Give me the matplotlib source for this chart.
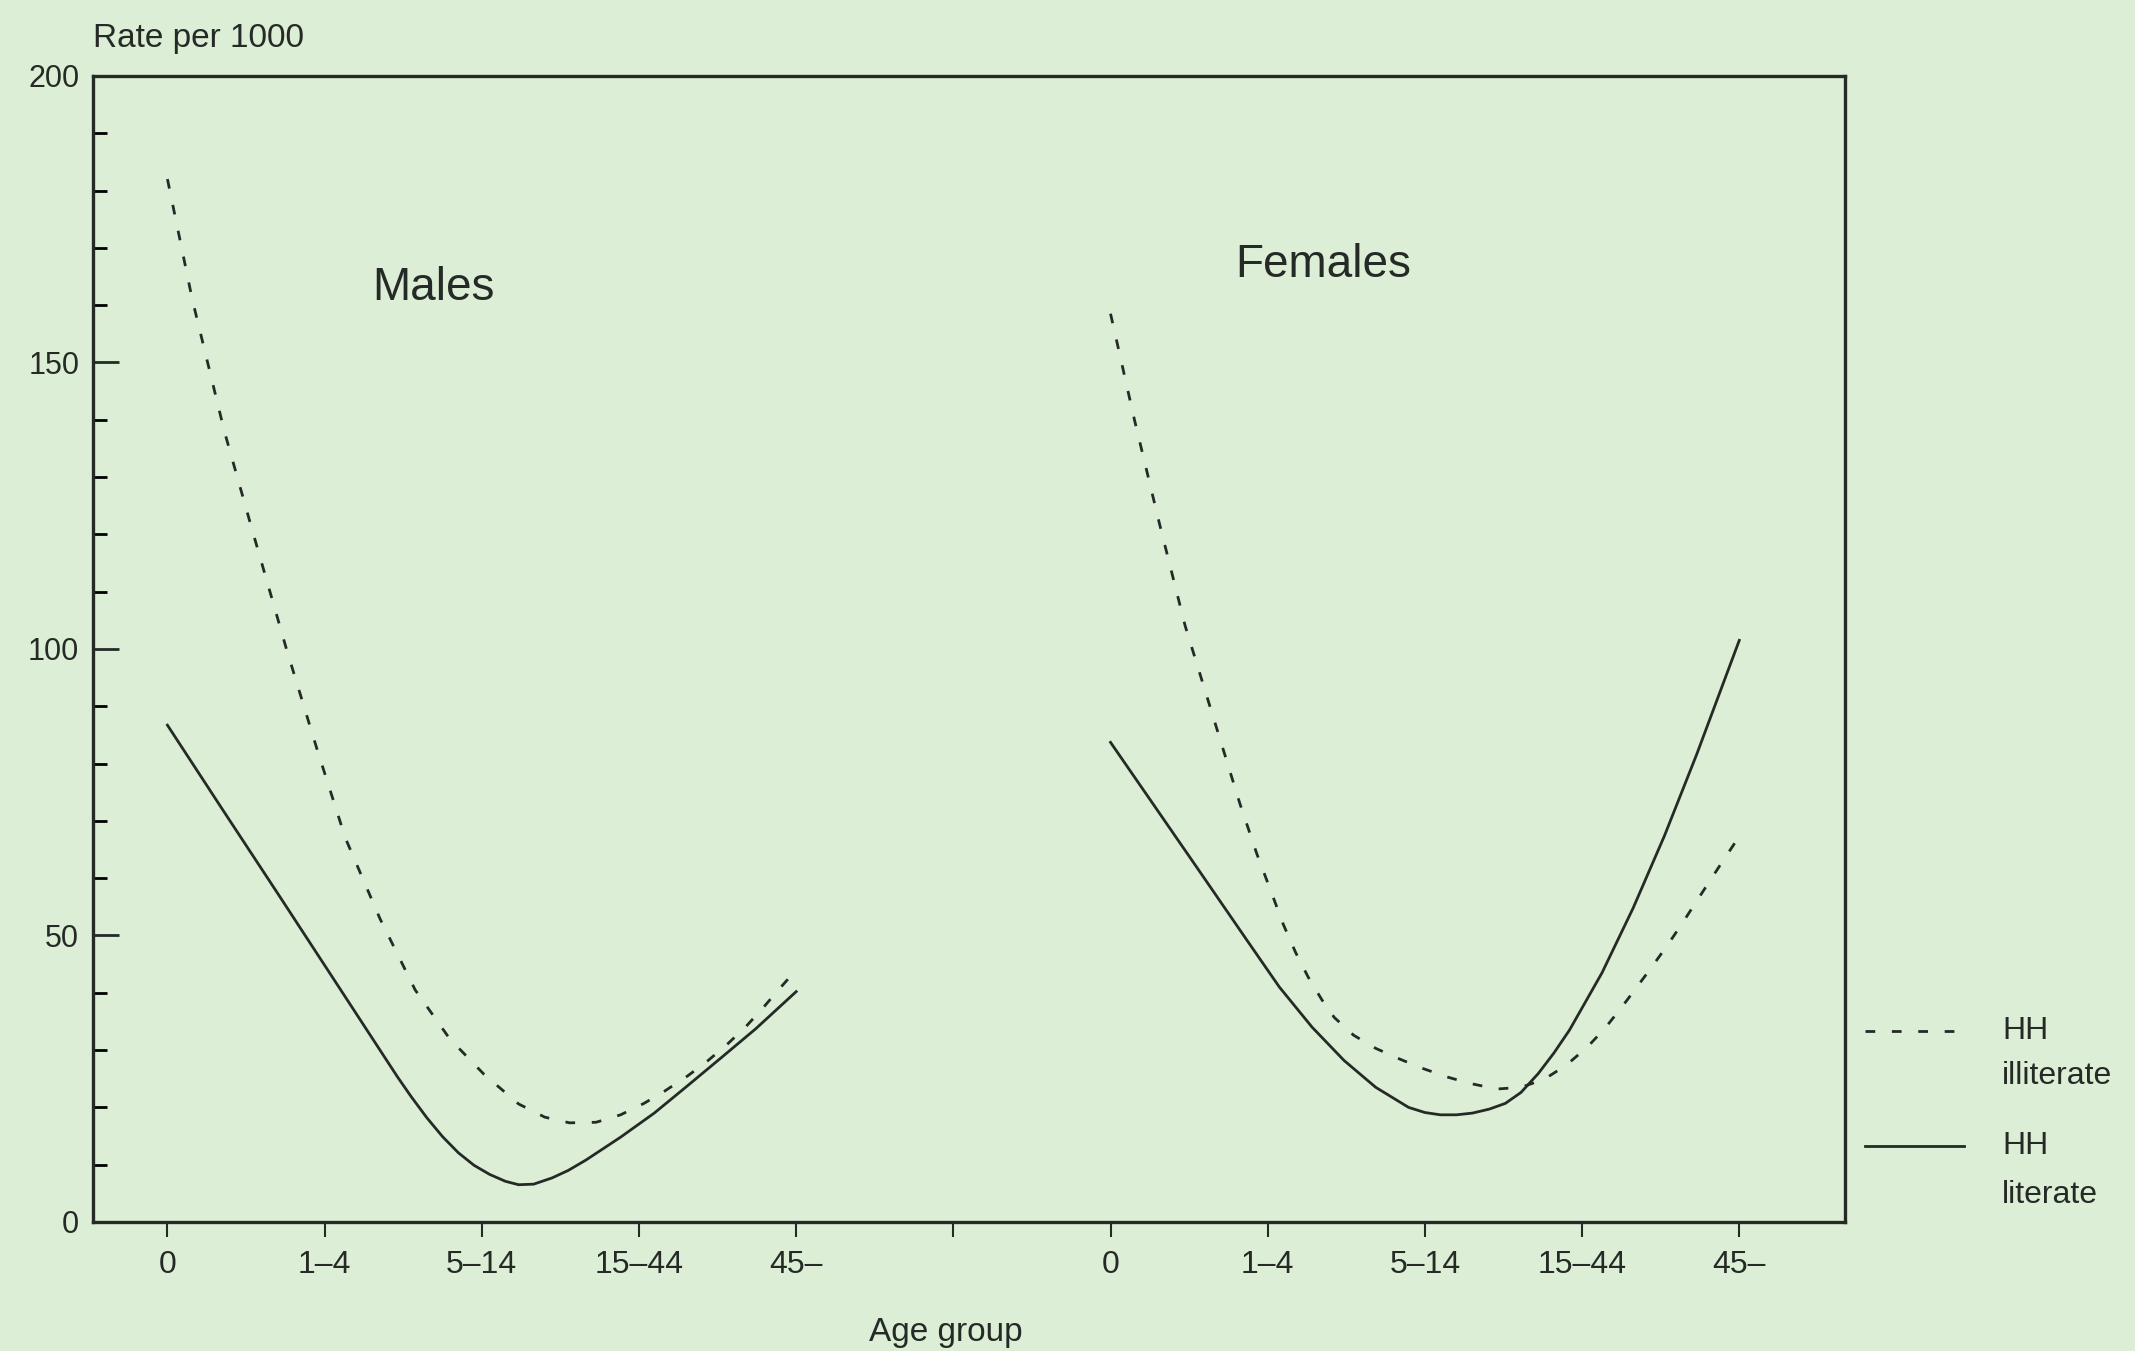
import numpy as np
import matplotlib
matplotlib.use("Agg")
import matplotlib.pyplot as plt
from matplotlib.ticker import MultipleLocator

# age groups (same for both panels)
age_labels = ["0", "1\u20134", "5\u201314", "15\u201344", "45\u2013"]
panel_gap = 6  # females start at position 6, one blank tick between

# curves: x is position on the age-group axis (0..4)
male_illit_x = [0, 0.158, 0.362, 0.54, 0.757, 0.954, 1.132, 1.351, 1.576, 1.795,
                2.013, 2.234, 2.4, 2.558, 2.727, 2.883, 3.032, 3.161, 3.31, 3.432,
                3.561, 3.677, 3.787, 3.884, 4.0]
male_illit_y = [182, 161, 138, 120.7, 100, 82.3, 67, 53, 40.5, 32,
                25.8, 20.6, 18.3, 17.3, 17.4, 18.7, 20.7, 22.8, 25.5, 28.0,
                31.0, 34.0, 37.3, 40.4, 44]

male_lit_x = [0, 0.35, 0.7, 1.1, 1.464, 1.55, 1.65, 1.75, 1.85, 1.95,
              2.05, 2.15, 2.234, 2.33, 2.448, 2.55, 2.662, 2.883, 3.097, 3.31,
              3.529, 3.742, 4.0]
male_lit_y = [86.7, 72.0, 57.4, 40.6, 25.3, 21.9, 18.2, 14.9, 12.1, 9.9,
              8.3, 7.1, 6.5, 6.6, 7.7, 9.0, 10.8, 14.8, 19.0, 23.8,
              28.8, 33.7, 40.2]

female_illit_x = [0, 0.152, 0.31, 0.475, 0.677, 0.823, 0.93, 1.037, 1.098, 1.178,
                  1.258, 1.344, 1.423, 1.546, 1.687, 1.834, 1.975, 2.142, 2.284, 2.457,
                  2.611, 2.759, 2.901, 3.036, 3.145, 3.247, 3.343, 3.446, 3.548, 3.639,
                  3.729, 3.819, 3.91, 4.0]
female_illit_y = [158.5, 140, 122, 104, 86, 73, 64.3, 56.5, 52, 47,
                  42.7, 38.8, 35.7, 32.6, 30.3, 28.5, 26.9, 25.3, 24.2, 23.2,
                  23.5, 24.9, 27.4, 30.6, 33.8, 37.3, 40.8, 44.6, 48.5, 52.2,
                  56, 59.8, 63.6, 67.3]

female_lit_x = [0, 0.234, 0.551, 0.867, 1.074, 1.282, 1.485, 1.687, 1.896, 2.0,
                2.099, 2.2, 2.302, 2.41, 2.512, 2.611, 2.721, 2.821, 2.92, 3.127,
                3.325, 3.524, 3.729, 4.0]
female_lit_y = [83.7, 74.4, 61.8, 49.2, 41, 34, 28.2, 23.5, 20, 19.1,
                18.7, 18.7, 19, 19.7, 20.7, 22.6, 25.9, 29.5, 33.5, 43.5,
                54.8, 67.4, 81.6, 101.5]

bg = "#dcefd6"
ink = "#262a26"
plt.rcParams["font.family"] = ["Liberation Sans", "DejaVu Sans"]

fig = plt.figure(figsize=(21.35, 13.51), dpi=100, facecolor=bg)
ax = fig.add_axes([0.0436, 0.0955, 0.8206, 0.8483], facecolor=bg)

dash = (3.5, 6)
lw = 2.0
ax.plot(male_illit_x, male_illit_y, color=ink, lw=lw, dashes=dash)
ax.plot(male_lit_x, male_lit_y, color=ink, lw=lw, solid_joinstyle="round")
fx_illit = np.array(female_illit_x) + panel_gap
fx_lit = np.array(female_lit_x) + panel_gap
ax.plot(fx_illit, female_illit_y, color=ink, lw=lw, dashes=dash)
ax.plot(fx_lit, female_lit_y, color=ink, lw=lw, solid_joinstyle="round")

ax.set_xlim(-0.473, 10.673)
ax.set_ylim(0, 200)

ax.set_xticks(list(range(11)))
ax.set_xticklabels(age_labels + [""] + age_labels)
ax.tick_params(axis="x", direction="out", length=11, width=1.5, pad=9,
               labelsize=23, colors=ink)

ax.set_yticks([0, 50, 100, 150, 200])
ax.yaxis.set_minor_locator(MultipleLocator(10))
ax.tick_params(axis="y", which="major", direction="in", length=19, width=2,
               pad=10, labelsize=22, colors=ink)
ax.tick_params(axis="y", which="minor", direction="in", length=10, width=2)

for sp in ax.spines.values():
    sp.set_linewidth(2.4)
    sp.set_color(ink)

ax.text(0, 1.033, "Rate per 1000", transform=ax.transAxes, ha="left",
        va="center", fontsize=24, color=ink)
ax.set_xlabel("Age group", fontsize=24, color=ink, labelpad=27)
ax.xaxis.label.set_x(0.487)

ax.text(1.69, 163, "Males", ha="center", va="center", fontsize=33, color=ink)
ax.text(7.35, 167, "Females", ha="center", va="center", fontsize=33, color=ink)

# legend at the right, outside the box
ax.plot([1.0114, 1.0656], [0.1667, 0.1667], transform=ax.transAxes,
        clip_on=False, color=ink, lw=lw, dashes=dash)
ax.plot([1.0114, 1.068], [0.0663, 0.0663], transform=ax.transAxes,
        clip_on=False, color=ink, lw=lw)
for y, s in [(0.1667, "HH"), (0.1274, "illiterate"),
             (0.0663, "HH"), (0.0236, "literate")]:
    ax.text(1.0896, y, s, transform=ax.transAxes, ha="left", va="center",
            fontsize=23, color=ink)

fig.savefig("out.png", dpi=100, facecolor=bg)
